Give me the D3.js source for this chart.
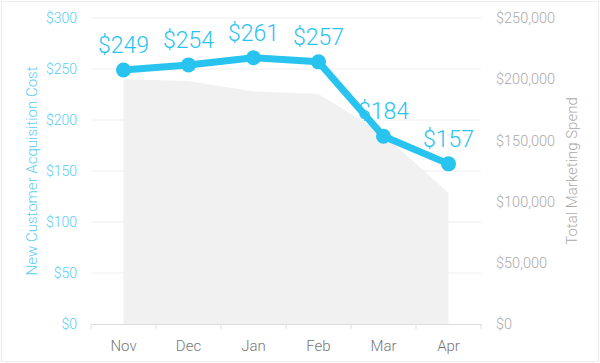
<!DOCTYPE html>
<html lang="en">
<head>
  <meta charset="UTF-8">
  <title>Customer Acquisition Cost</title>
  <style>
    body { margin: 0; background: #fff; }
    svg { display: block; font-family: Roboto, "Noto Sans", sans-serif; font-weight: 300; }
  </style>
</head>
<body>
  <div id="chart"></div>
  <script src="https://d3js.org/d3.v7.min.js"></script>
  <script>
    const months = ['Nov', 'Dec', 'Jan', 'Feb', 'Mar', 'Apr']
    const acquisitionCost = [249, 254, 261, 257, 184, 157]
    const marketingSpend = [200000, 198500, 190000, 188000, 155000, 107000]
    const leftTicks = [0, 50, 100, 150, 200, 250, 300]
    const rightTicks = [0, 50000, 100000, 150000, 200000, 250000]

    const width = 600, height = 363
    const margin = {top: 18, right: 119, bottom: 39, left: 91}

    const svg = d3.select('#chart')
      .append('svg')
        .attr('width', width)
        .attr('height', height)

    // light frame round the picture
    svg.append('rect')
      .attr('x', 1.5).attr('y', 1.5)
      .attr('width', width - 3).attr('height', height - 3)
      .attr('fill', 'none')
      .attr('stroke', '#ececec')

    const x = d3.scaleBand()
      .domain(months)
      .range([margin.left, width - margin.right])

    const y = d3.scaleLinear()
      .domain([0, 300])
      .range([height - margin.bottom, margin.top])

    const y2 = d3.scaleLinear()
      .domain([0, 250000])
      .range([height - margin.bottom, margin.top])

    const cx = d => x(d) + x.bandwidth() / 2

    // gridlines
    svg.append('g')
      .selectAll('line')
      .data(leftTicks.slice(1))
      .enter()
      .append('line')
        .attr('x1', margin.left)
        .attr('x2', width - margin.right)
        .attr('y1', d => y(d))
        .attr('y2', d => y(d))
        .attr('stroke', '#eeeeee')

    // spend area
    const area = d3.area()
      .x((d, i) => cx(months[i]))
      .y0(y2(0))
      .y1(d => y2(d))

    svg.append('path')
      .datum(marketingSpend)
      .attr('d', area)
      .attr('fill', '#f1f1f1')

    // bottom axis
    const bottomAxis = d3.axisBottom(x).tickSize(0).tickPadding(16)
    const gx = svg.append('g')
      .attr('transform', `translate(0, ${height - margin.bottom})`)
      .call(bottomAxis)
    gx.select('.domain').attr('stroke', '#dddddd')
    gx.selectAll('text')
      .attr('fill', '#777')
      .style('font-size', '15px')
      .style('font-family', 'Roboto, sans-serif')
      .style('font-weight', 300)

    // tick marks at band edges
    const edges = months.map(m => x(m)).concat([width - margin.right])
    gx.append('g')
      .selectAll('line')
      .data(edges)
      .enter()
      .append('line')
        .attr('x1', d => d).attr('x2', d => d)
        .attr('y1', 0).attr('y2', 5)
        .attr('stroke', '#dddddd')

    // left axis
    const leftAxis = d3.axisLeft(y).tickValues(leftTicks).tickSize(0).tickPadding(14)
      .tickFormat(d => '$' + d)
    const gl = svg.append('g')
      .attr('transform', `translate(${margin.left}, 0)`)
      .call(leftAxis)
    gl.select('.domain').remove()
    gl.selectAll('text')
      .attr('fill', '#5bcdf5')
      .style('font-size', '14px')
      .style('font-family', 'Roboto, sans-serif')
      .style('font-weight', 300)

    // right axis
    const rightAxis = d3.axisRight(y2).tickValues(rightTicks).tickSize(0).tickPadding(15)
      .tickFormat(d => '$' + d3.format(',')(d))
    const gr = svg.append('g')
      .attr('transform', `translate(${width - margin.right}, 0)`)
      .call(rightAxis)
    gr.select('.domain').remove()
    gr.selectAll('text')
      .attr('fill', '#aaaaaa')
      .style('font-size', '14.5px')
      .style('font-family', 'Roboto, sans-serif')
      .style('font-weight', 300)

    // axis titles
    const midY = (margin.top + height - margin.bottom) / 2
    svg.append('text')
      .attr('transform', `translate(37, ${midY}) rotate(-90)`)
      .attr('text-anchor', 'middle')
      .attr('fill', '#5bcdf5')
      .style('font-size', '15px')
      .text('New Customer Acquisition Cost')

    svg.append('text')
      .attr('transform', `translate(577, ${midY}) rotate(-90)`)
      .attr('text-anchor', 'middle')
      .attr('fill', '#aaaaaa')
      .style('font-size', '15px')
      .text('Total Marketing Spend')

    // cost line
    const line = d3.line()
      .x((d, i) => cx(months[i]))
      .y(d => y(d))

    svg.append('path')
      .datum(acquisitionCost)
      .attr('d', line)
      .attr('fill', 'none')
      .attr('stroke', '#29c3ef')
      .attr('stroke-width', 7)
      .attr('stroke-linejoin', 'round')

    svg.append('g')
      .selectAll('circle')
      .data(acquisitionCost)
      .enter()
      .append('circle')
        .attr('cx', (d, i) => cx(months[i]))
        .attr('cy', d => y(d))
        .attr('r', 7.5)
        .attr('fill', '#29c3ef')

    svg.append('g')
      .selectAll('text')
      .data(acquisitionCost)
      .enter()
      .append('text')
        .attr('x', (d, i) => cx(months[i]))
        .attr('y', d => y(d) - 17)
        .attr('text-anchor', 'middle')
        .attr('fill', '#29c3ef')
        .style('font-size', '23px')
        .style('font-weight', 300)
        .text(d => '$' + d)
  </script>
</body>
</html>
